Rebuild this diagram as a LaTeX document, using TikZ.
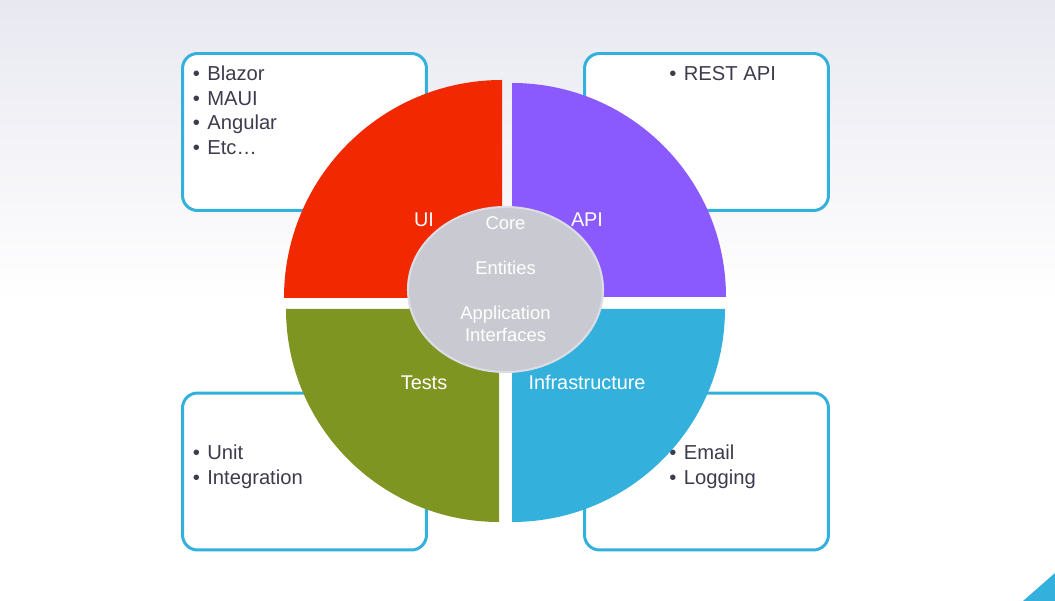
\documentclass[tikz,border=0pt]{standalone}
\usepackage{fontspec}
\setmainfont{Liberation Sans}
\usetikzlibrary{shapes.geometric}

\definecolor{uired}{RGB}{242,40,0}
\definecolor{apipurple}{RGB}{139,90,255}
\definecolor{testgreen}{RGB}{127,149,34}
\definecolor{infrablue}{RGB}{51,177,220}
\definecolor{coregray}{RGB}{201,201,209}
\definecolor{coreedge}{RGB}{220,220,228}
\definecolor{ink}{RGB}{60,60,76}
\definecolor{bgtop}{RGB}{232,232,241}

\newcommand{\bul}[1]{\makebox[0.29cm][l]{\textbullet}#1}

\begin{document}
\begin{tikzpicture}[
    x=0.02cm, y=0.02cm,
    panel/.style={draw=infrablue, line width=1.7pt, fill=white, rounded corners=0.3cm, minimum width=4.88cm, minimum height=3.14cm},
    item/.style={anchor=base west, inner sep=0pt, text=ink, font=\fontsize{11.5}{14}\selectfont},
    quadlabel/.style={anchor=base, inner sep=0pt, text=white, font=\fontsize{11.3}{14}\selectfont},
    corelabel/.style={anchor=base, inner sep=0pt, text=white, font=\fontsize{10.5}{13}\selectfont}
]

% Background with soft top band
\useasboundingbox (0,0) rectangle (1055,601);
\fill[white] (0,0) rectangle (1055,601);
\shade[top color=bgtop, bottom color=white] (0,300) rectangle (1055,601);

% Side panels
\node[panel] (uibox) at (304.5, 469) {};
\node[panel] (apibox) at (706.5, 469) {};
\node[panel] (testbox) at (304.5, 129.5) {};
\node[panel] (infrabox) at (706.5, 129.5) {};

% Panel contents
\foreach \t [count=\i from 0] in {Blazor,MAUI,Angular,Etc…}
    \node[item] (ui\i) at (192.5, 520.3-24.5*\i) {\bul{\t}};
\node[item] (api0) at (669, 520.3) {\bul{REST API}};
\node[item] (test0) at (192.5, 141) {\bul{Unit}};
\node[item] (test1) at (192.5, 116.5) {\bul{Integration}};
\node[item] (infra0) at (669, 141) {\bul{Email}};
\node[item] (infra1) at (669, 116.5) {\bul{Logging}};

% Quadrants of the circle
\fill[uired] (502,303) -- ++(180:218) arc[start angle=180, end angle=90, radius=218] -- cycle;
\fill[apipurple] (512,304) -- ++(0:214) arc[start angle=0, end angle=90, radius=214] -- cycle;
\fill[testgreen] (499,292) -- ++(180:213) arc[start angle=180, end angle=270, radius=213] -- cycle;
\fill[infrablue] (512,292) -- ++(0:213) arc[start angle=0, end angle=-90, radius=213] -- cycle;

% Quadrant labels
\node[quadlabel] (ui) at (424, 374) {UI};
\node[quadlabel] (api) at (587, 374) {API};
\node[quadlabel] (tests) at (424, 211.5) {Tests};
\node[quadlabel] (infra) at (587, 211.5) {Infrastructure};

% Core in the middle
\node[ellipse, fill=coregray, draw=coreedge, line width=1.2pt, minimum width=3.9cm, minimum height=3.3cm] (core) at (505.5, 311.5) {};
\node[corelabel] (corename) at (505.5, 371) {Core};
\node[corelabel] (entities) at (505.5, 326) {Entities};
\node[corelabel] (app) at (505.5, 281) {Application};
\node[corelabel] (ifaces) at (505.5, 259.3) {Interfaces};

% Corner mark
\fill[infrablue] (1055,28) -- (1055,0) -- (1023,0) -- cycle;

\end{tikzpicture}
\end{document}
